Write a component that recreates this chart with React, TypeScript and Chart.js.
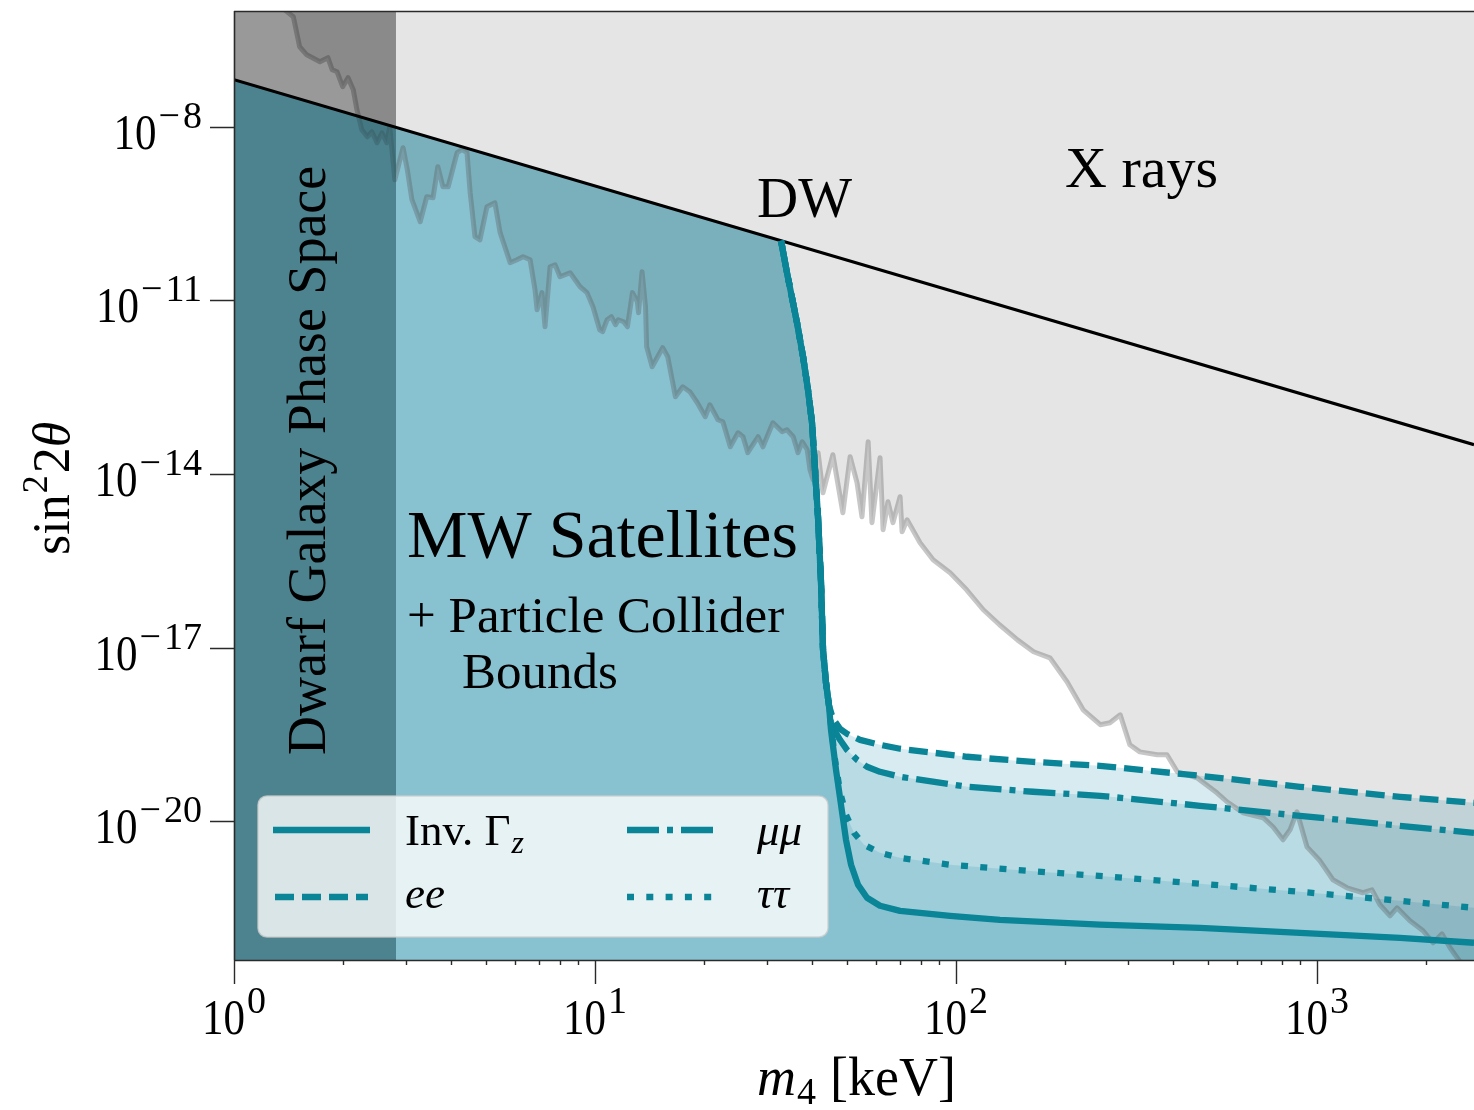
import React, { useEffect, useRef } from "react";
import { Chart, registerables } from "chart.js";

Chart.register(...registerables);

// ---------------- data (m4 in keV, sin^2 2theta) ----------------
const dwMass = [1, 2722];
const dwSin2 = [6.5e-8, 3.2e-14];

const dwarfMass = [1, 2.81];
const dwarfSin2 = [6.5e-8, 9.7e-9];

// shared steep edge of the MW-satellite region (starts on the DW line)
const mwEdgeMass = [32.76, 34.03, 36.28, 37.7, 38.91, 39.92, 40.69, 41.47, 42.28, 42.82, 43.64, 44.49];
const mwEdgeSin2 = [1.07e-10, 3.0e-11, 4.1e-12, 1.06e-12, 2.85e-13, 7.67e-14, 1.18e-14, 1.82e-15, 1.32e-16, 9.18e-18, 2.47e-18, 9.89e-19];

const invGzMass = [45.05, 46.52, 48.03, 49.58, 51.2, 53.53, 56.69, 61.59, 69.97, 96.25, 132.4, 250.6, 474.2, 897.4, 1698, 2722];
const invGzSin2 = [3.8e-19, 7.74e-20, 1.92e-20, 4.78e-21, 1.77e-21, 7.98e-22, 4.75e-22, 3.46e-22, 2.83e-22, 2.32e-22, 1.98e-22, 1.63e-22, 1.44e-22, 1.18e-22, 9.68e-23, 7.94e-23];

const eeMass = [45.63, 47.72, 49.9, 54.22, 61.59, 69.97, 107.3, 163.5, 250.6, 474.2, 897.4, 1698, 2722];
const eeSin2 = [5.89e-19, 3.95e-19, 3.24e-19, 2.55e-19, 2.09e-19, 1.79e-19, 1.3e-19, 1.06e-19, 9.08e-20, 6.1e-20, 3.94e-20, 2.64e-20, 2.08e-20];

const mumuMass = [45.63, 47.72, 49.9, 53.19, 56.69, 61.59, 69.97, 107.3, 163.5, 250.6, 474.2, 897.4, 1698, 2722];
const mumuSin2 = [4.11e-19, 2.55e-19, 1.71e-19, 1.15e-19, 8.73e-20, 7.14e-20, 5.86e-20, 3.94e-20, 3.23e-20, 2.75e-20, 1.85e-20, 1.24e-20, 8.34e-21, 6.31e-21];

const tautauMass = [45.05, 46.22, 47.72, 49.58, 52.18, 55.63, 61.59, 69.97, 96.25, 143.9, 267.1, 474.2, 897.4, 1698, 2722];
const tautauSin2 = [4.65e-19, 1.15e-19, 3.23e-20, 1.29e-20, 6.31e-21, 3.92e-21, 2.85e-21, 2.33e-21, 1.77e-21, 1.45e-21, 1.1e-21, 8.3e-22, 6.04e-22, 4.22e-22, 3.19e-22];

const xrayMass = [
  1.36, 1.46, 1.52, 1.59, 1.73, 1.82, 1.87, 1.93, 2.0, 2.07, 2.14, 2.19, 2.26, 2.34, 2.41, 2.49, 2.57, 2.65, 2.7, 2.79,
  2.85, 2.94, 3.02, 3.11, 3.28, 3.42, 3.56, 3.67, 3.79, 3.92, 4.15, 4.28, 4.42, 4.51, 4.65, 4.8, 5.02, 5.28, 5.46, 5.82,
  6.08, 6.32, 6.61, 6.82, 6.91, 7.13, 7.27, 7.51, 7.75, 8.0, 8.53, 9.09, 9.5, 9.87, 10.3, 10.5, 10.8, 11.1, 11.4, 11.6,
  12.0, 12.3, 12.7, 13.1, 13.2, 13.5, 13.8, 13.9, 14.4, 15.4, 15.9, 16.7, 17.5, 18.3, 19.2, 20.2, 20.8, 21.9, 22.6, 23.7,
  24.9, 25.7, 26.5, 28.3, 29.2, 31.1, 33.0, 34.0, 35.4, 36.5, 37.5, 38.7, 39.4, 40.2, 41.5, 42.8, 45.6, 48.6, 50.9, 53.2,
  54.9, 57.1, 58.5, 61.6, 62.8, 64.8, 66.9, 70.0, 70.9, 73.2, 79.5, 86.4, 96.3, 107, 119, 132, 148, 164, 182, 203,
  225, 251, 267, 285, 303, 323, 361, 384, 410, 465, 528, 563, 624, 709, 755, 805, 842, 880, 938, 1019,
  1107, 1211, 1341, 1420, 1494, 1593, 1666, 1809, 1967, 2096, 2220, 2336, 2490, 5000,
];
const xraySin2 = [
  1.14e-6, 7.96e-7, 2.41e-7, 1.75e-7, 1.33e-7, 1.56e-7, 9.66e-8, 8.91e-8, 4.91e-8, 7.03e-8, 4.36e-8, 1.97e-8, 8.87e-9, 6.71e-9, 8.2e-9, 5.3e-9, 7.87e-9, 5.3e-9, 1.0e-8, 1.21e-9,
  2.04e-9, 4.34e-9, 1.81e-9, 5.48e-10, 2.28e-10, 6.17e-10, 5.93e-10, 2.04e-9, 9.19e-10, 9.19e-10, 3.56e-9, 4.01e-9, 3.56e-9, 7.24e-10, 1.26e-10, 1.11e-10, 4.15e-10, 4.86e-10, 1.47e-10, 4.47e-11,
  5.03e-11, 5.68e-11, 5.03e-11, 1.52e-11, 6.89e-12, 1.36e-11, 3.5e-12, 3.81e-11, 4.12e-11, 2.56e-11, 3.0e-11, 1.72e-11, 1.36e-11, 7.76e-12, 3.1e-12, 2.87e-12, 4.62e-12, 5.21e-12, 3.79e-12, 4.62e-12,
  4.27e-12, 3.5e-12, 1.36e-11, 9.46e-12, 6.11e-12, 3.12e-11, 7.76e-12, 1.58e-12, 7.13e-13, 1.52e-12, 1.06e-12, 2.16e-13, 3.21e-13, 2.64e-13, 1.7e-13, 9.75e-14, 1.57e-13, 8.65e-14, 7.98e-14, 2.95e-14,
  5.15e-14, 4.4e-14, 2.33e-14, 4.4e-14, 2.95e-14, 7.67e-14, 5.37e-14, 5.81e-14, 4.4e-14, 2.33e-14, 3.61e-14, 2.62e-14, 1.18e-14, 7.94e-15, 2.33e-14, 4.74e-15, 2.15e-14, 2.14e-15, 1.99e-14, 7.05e-15,
  1.82e-15, 3.61e-14, 1.44e-15, 1.91e-14, 1.09e-15, 3.31e-15, 1.44e-15, 4.04e-15, 1.0e-15, 1.62e-15, 6.49e-16, 3.3e-16, 1.96e-16, 9.98e-17, 4.51e-17, 2.48e-17, 1.36e-17, 8.47e-18, 6.67e-18, 2.57e-18,
  8.43e-19, 4.65e-19, 5.02e-19, 6.9e-19, 2.09e-19, 1.58e-19, 1.41e-19, 1.41e-19, 7.14e-20, 5.64e-20, 3.1e-20, 2.17e-20, 1.4e-20, 1.15e-20, 8.02e-21, 4.78e-21, 7.11e-21, 1.46e-20, 3.61e-21, 2.07e-21,
  9.73e-22, 7.08e-22, 5.81e-22, 6.53e-22, 3.6e-22, 2.32e-22, 3.19e-22, 1.91e-22, 1.28e-22, 7.94e-23, 1.13e-22, 6.5e-23, 3.72e-23, 1.0e-23,
];

const xMajorTicks = [1, 10, 100, 1000];
const xTickExponents = ["0", "1", "2", "3"];
const xMinorTicks = [2, 3, 4, 5, 6, 7, 8, 9, 20, 30, 40, 50, 60, 70, 80, 90, 200, 300, 400, 500, 600, 700, 800, 900, 2000];
const yMajorTicks = [1e-20, 1e-17, 1e-14, 1e-11, 1e-8];
const yTickExponents = ["\u221220", "\u221217", "\u221214", "\u221211", "\u22128"];

// ---------------- styles ----------------
const TEAL = "#0a8497";
const TEAL_FILL = "rgba(38,144,172,0.18)";
const SERIF = '"Liberation Serif", "Times New Roman", serif';
const LINE_W = 6.3;
const DASH_EE = [19, 8];
const DASH_MUMU = [32, 8, 6, 8];
const DASH_TAUTAU = [7, 12.3];

const pts = (xs: number[], ys: number[]) => xs.map((x, i) => ({ x, y: ys[i] }));

function powerLabel(ctx: any, exp: string, x: number, yBase: number, align: string) {
  const sx = 0.86;
  ctx.font = `50px ${SERIF}`;
  const w10 = ctx.measureText("10").width * sx;
  ctx.font = `38px ${SERIF}`;
  const hasMinus = exp.startsWith("\u2212");
  const digits = hasMinus ? exp.slice(1) : exp;
  const wMinus = hasMinus ? ctx.measureText("\u2212").width + 3 : 0;
  const wSup = wMinus + ctx.measureText(digits).width;
  const total = w10 + 2 + wSup;
  const x0 = align === "center" ? x - total / 2 : x - total;
  ctx.save();
  ctx.translate(x0, yBase);
  ctx.scale(sx, 1);
  ctx.font = `50px ${SERIF}`;
  ctx.fillText("10", 0, 0);
  ctx.restore();
  ctx.font = `38px ${SERIF}`;
  let px = x0 + w10 + 2;
  const py = yBase - 21;
  if (hasMinus) {
    ctx.fillText("\u2212", px, py);
    px += wMinus;
  }
  ctx.fillText(digits, px, py);
}

const decor = {
  id: "decor",
  afterDraw(chart: any) {
    const ctx = chart.ctx;
    const xs = chart.scales.x;
    const ys = chart.scales.y;
    const { left, right, top, bottom } = chart.chartArea;
    ctx.save();
    ctx.fillStyle = "#000";
    ctx.textBaseline = "alphabetic";
    ctx.textAlign = "left";

    // annotations
    ctx.font = `57px ${SERIF}`;
    ctx.fillText("DW", 757, 217);
    ctx.font = `58px ${SERIF}`;
    ctx.fillText("X rays", 1065, 187);
    ctx.font = `68px ${SERIF}`;
    ctx.fillText("MW Satellites", 407, 557);
    ctx.font = `51px ${SERIF}`;
    ctx.fillText("+ Particle Collider", 407, 632);
    ctx.fillText("Bounds", 462, 688);

    ctx.save();
    ctx.translate(325, 755);
    ctx.rotate(-Math.PI / 2);
    ctx.font = `54px ${SERIF}`;
    ctx.fillText("Dwarf Galaxy Phase Space", 0, 0);
    ctx.restore();

    // spines
    ctx.strokeStyle = "#2a2a2a";
    ctx.lineWidth = 1.6;
    ctx.beginPath();
    ctx.moveTo(left, top + 0.5);
    ctx.lineTo(right, top + 0.5);
    ctx.moveTo(left + 0.5, top);
    ctx.lineTo(left + 0.5, bottom);
    ctx.moveTo(left, bottom + 0.5);
    ctx.lineTo(right, bottom + 0.5);
    ctx.stroke();

    // ticks
    ctx.lineWidth = 1.4;
    ctx.beginPath();
    for (const v of xMajorTicks) {
      const p = Math.round(xs.getPixelForValue(v)) + 0.5;
      ctx.moveTo(p, bottom);
      ctx.lineTo(p, bottom + 24);
    }
    for (const v of xMinorTicks) {
      const p = Math.round(xs.getPixelForValue(v)) + 0.5;
      ctx.moveTo(p, bottom);
      ctx.lineTo(p, bottom + 5);
    }
    for (const v of yMajorTicks) {
      const p = Math.round(ys.getPixelForValue(v)) + 0.5;
      ctx.moveTo(left - 24, p);
      ctx.lineTo(left, p);
    }
    ctx.stroke();

    // tick labels
    xMajorTicks.forEach((v, i) => {
      powerLabel(ctx, xTickExponents[i], xs.getPixelForValue(v), bottom + 74, "center");
    });
    yMajorTicks.forEach((v, i) => {
      powerLabel(ctx, yTickExponents[i], left - 32, ys.getPixelForValue(v) + 22, "right");
    });

    // axis titles
    ctx.font = `italic 54px ${SERIF}`;
    ctx.fillText("m", 757, 1095);
    let w = ctx.measureText("m").width;
    ctx.font = `38px ${SERIF}`;
    ctx.fillText("4", 757 + w + 1, 1104);
    w += ctx.measureText("4").width + 15;
    ctx.font = `54px ${SERIF}`;
    ctx.fillText("[keV]", 757 + w, 1095);

    ctx.save();
    ctx.translate(69, 555);
    ctx.rotate(-Math.PI / 2);
    ctx.font = `52px ${SERIF}`;
    ctx.fillText("sin", 0, 0);
    let t = ctx.measureText("sin").width;
    ctx.font = `36px ${SERIF}`;
    ctx.fillText("2", t + 1, -22);
    t += ctx.measureText("2").width + 3;
    ctx.font = `52px ${SERIF}`;
    ctx.fillText("2", t, 0);
    t += ctx.measureText("2").width;
    ctx.font = `italic 52px ${SERIF}`;
    ctx.fillText("\u03B8", t, 0);
    ctx.restore();

    // legend
    const bx = 258, by = 796, bw = 570, bh = 141;
    ctx.beginPath();
    ctx.roundRect(bx, by, bw, bh, 9);
    ctx.fillStyle = "rgba(255,255,255,0.8)";
    ctx.fill();
    ctx.strokeStyle = "rgba(204,204,204,0.8)";
    ctx.lineWidth = 1.5;
    ctx.stroke();

    const rows = [830, 897];
    const items = [
      { dash: [], x0: 273, x1: 370, row: 0 },
      { dash: DASH_EE, x0: 275, x1: 368, row: 1 },
      { dash: DASH_MUMU, x0: 627, x1: 716, row: 0 },
      { dash: DASH_TAUTAU, x0: 627, x1: 714, row: 1 },
    ];
    ctx.strokeStyle = TEAL;
    ctx.lineWidth = LINE_W;
    ctx.lineCap = "butt";
    for (const it of items) {
      ctx.setLineDash(it.dash);
      ctx.beginPath();
      ctx.moveTo(it.x0, rows[it.row]);
      ctx.lineTo(it.x1, rows[it.row]);
      ctx.stroke();
    }
    ctx.setLineDash([]);
    ctx.fillStyle = "#000";
    ctx.font = `45px ${SERIF}`;
    ctx.fillText("Inv. \u0393", 405, 845);
    const wg = ctx.measureText("Inv. \u0393").width;
    ctx.font = `italic 32px ${SERIF}`;
    ctx.fillText("z", 405 + wg + 1, 853);
    ctx.font = `italic 45px ${SERIF}`;
    ctx.fillText("ee", 405, 908);
    ctx.fillText("\u03BC\u03BC", 757, 845);
    ctx.fillText("\u03C4\u03C4", 757, 908);

    ctx.restore();
  },
};

export default function App() {
  const canvasRef = useRef<HTMLCanvasElement | null>(null);

  useEffect(() => {
    const canvas = canvasRef.current;
    if (!canvas) return;

    const edgeTop = { x: dwMass[0], y: dwSin2[0] };
    const regionData = (mass: number[], sin2: number[]) => [
      edgeTop,
      ...pts(mwEdgeMass, mwEdgeSin2),
      ...pts(mass, sin2),
    ];
    const curveData = (mass: number[], sin2: number[]) => [...pts(mwEdgeMass, mwEdgeSin2), ...pts(mass, sin2)];

    const fillDs = (label: string, data: any[], order: number) => ({
      label,
      data,
      fill: "start",
      backgroundColor: TEAL_FILL,
      borderColor: "transparent",
      borderWidth: 0,
      pointRadius: 0,
      order,
    });
    const lineDs = (label: string, data: any[], dash: number[], order: number) => ({
      label,
      data,
      fill: false,
      borderColor: TEAL,
      borderWidth: LINE_W,
      borderDash: dash,
      borderJoinStyle: "round",
      pointRadius: 0,
      order,
    });

    const chart = new Chart(canvas, {
      type: "line",
      data: {
        datasets: [
          fillDs("ee region", regionData(eeMass, eeSin2), 100),
          fillDs("mumu region", regionData(mumuMass, mumuSin2), 99),
          fillDs("tautau region", regionData(tautauMass, tautauSin2), 98),
          fillDs("Inv. Gamma_z region", regionData(invGzMass, invGzSin2), 97),
          {
            label: "X rays",
            data: pts(xrayMass, xraySin2),
            fill: "end",
            backgroundColor: "rgba(0,0,0,0.1)",
            borderColor: "rgba(85,85,85,0.33)",
            borderWidth: 5,
            borderJoinStyle: "round",
            pointRadius: 0,
            order: 90,
          },
          {
            label: "Dwarf (below DW)",
            data: pts(dwarfMass, dwarfSin2),
            fill: "start",
            backgroundColor: "rgba(16,67,77,0.5)",
            borderColor: "transparent",
            borderWidth: 0,
            pointRadius: 0,
            order: 85,
          },
          {
            label: "Dwarf (above DW)",
            data: pts(dwarfMass, dwarfSin2),
            fill: "end",
            backgroundColor: "rgba(0,0,0,0.4)",
            borderColor: "transparent",
            borderWidth: 0,
            pointRadius: 0,
            order: 84,
          },
          {
            label: "DW",
            data: pts(dwMass, dwSin2),
            fill: false,
            borderColor: "#000",
            borderWidth: 3.2,
            pointRadius: 0,
            order: 70,
          },
          lineDs("ee", curveData(eeMass, eeSin2), DASH_EE, 60),
          lineDs("mumu", curveData(mumuMass, mumuSin2), DASH_MUMU, 59),
          lineDs("tautau", curveData(tautauMass, tautauSin2), DASH_TAUTAU, 58),
          lineDs("Inv. Gamma_z", curveData(invGzMass, invGzSin2), [], 57),
        ],
      },
      options: {
        animation: false,
        responsive: false,
        devicePixelRatio: 1,
        layout: { padding: { left: 234, top: 11, right: 0, bottom: 150 } },
        scales: {
          x: { type: "logarithmic", min: 1, max: 2722, bounds: "data", display: false },
          y: { type: "logarithmic", min: 4e-23, max: 1e-6, bounds: "data", display: false },
        },
        plugins: {
          legend: { display: false },
          tooltip: { enabled: false },
        },
        elements: { point: { radius: 0 }, line: { tension: 0 } },
      },
      plugins: [decor],
    } as any);

    return () => chart.destroy();
  }, []);

  return (
    <div style={{ position: "absolute", left: 0, top: 0, width: 1474, height: 1110, background: "#fff" }}>
      <canvas ref={canvasRef} width={1474} height={1110} style={{ display: "block" }} />
    </div>
  );
}
